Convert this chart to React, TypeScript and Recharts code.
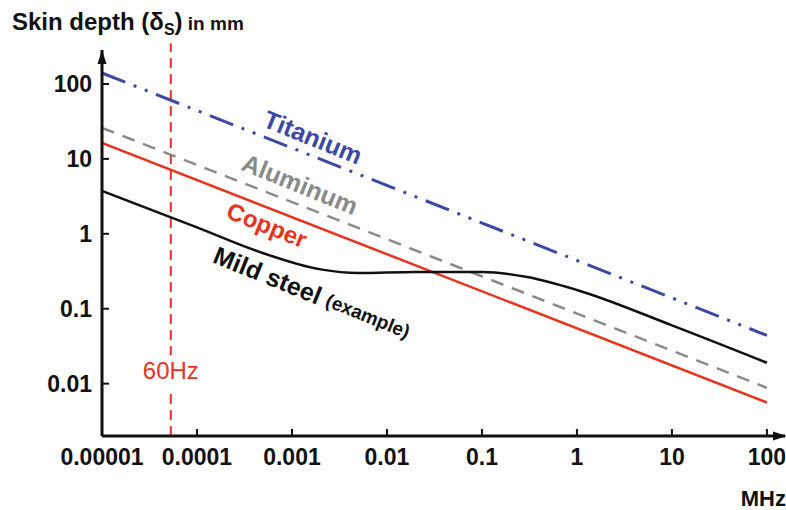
import React from "react";
import { LineChart, Line, XAxis, YAxis, ReferenceLine, ReferenceDot } from "recharts";

const FONT = '"Liberation Sans", Arial, Helvetica, sans-serif';

// frequency axis (MHz) and skin depth axis (mm), both log
const xTicks = [0.00001, 0.0001, 0.001, 0.01, 0.1, 1, 10, 100];
const xTickLabels = ["0.00001", "0.0001", "0.001", "0.01", "0.1", "1", "10", "100"];
const yTicks = [0.01, 0.1, 1, 10, 100];
const yTickLabels = ["0.01", "0.1", "1", "10", "100"];
const xDomain = [0.00001, 155];
const yDomain = [0.002, 284];

// straight lines (slope -1/2 on log-log)
const lineFreq = [0.00001, 100];
const titanium = [140, 0.044];
const aluminum = [26, 0.0088];
const copper = [16.3, 0.0056];

// mild steel example curve
const steelFreq = [0.00001, 0.0001, 0.0005, 0.002, 0.005, 0.02, 0.1, 0.3, 1, 10, 100];
const steelDepth = [3.75, 1.22, 0.55, 0.335, 0.3, 0.31, 0.31, 0.265, 0.178, 0.06, 0.019];

// 60 Hz marker, expressed in MHz
const hz60 = 0.000053;
const hz60Span = [0.002, 350];

const BLUE = "#3d48a6";
const GREY = "#8a8a8a";
const RED = "#e8341e";
const INK = "#111";

const toPoints = (xs: number[], ys: number[]) => xs.map((f, i) => ({ f, d: ys[i] }));

const fmtX = (v: number) => xTickLabels[xTicks.indexOf(v)] ?? String(v);
const fmtY = (v: number) => yTickLabels[yTicks.indexOf(v)] ?? String(v);

const HzLabel = (props: any) => {
  const x = props.viewBox?.x ?? 0;
  return (
    <g>
      <rect x={x - 32} y={355} width={64} height={34} fill="#fff" />
      <text x={x} y={379} textAnchor="middle" fill={RED} fontSize={24} fontFamily={FONT}>
        60Hz
      </text>
    </g>
  );
};

const ArrowRight = (p: any) => (
  <polygon points={`${p.cx + 2},${p.cy} ${p.cx - 12},${p.cy - 4.5} ${p.cx - 12},${p.cy + 4.5}`} fill={INK} />
);
const ArrowUp = (p: any) => (
  <polygon points={`${p.cx},${p.cy} ${p.cx - 4.5},${p.cy + 14} ${p.cx + 4.5},${p.cy + 14}`} fill={INK} />
);

export default function App() {
  return (
    <div style={{ position: "absolute", left: 0, top: 0, background: "#fff" }}>
      <LineChart
        width={786}
        height={510}
        margin={{ top: 50, right: 1, bottom: 0, left: 0 }}
        style={{ fontFamily: FONT }}
      >
        <XAxis
          dataKey="f"
          type="number"
          scale="log"
          domain={xDomain}
          allowDataOverflow
          ticks={xTicks}
          interval={0}
          tickFormatter={fmtX}
          height={74}
          tickSize={-7}
          tickMargin={20}
          axisLine={{ stroke: INK, strokeWidth: 3 }}
          tickLine={{ stroke: INK, strokeWidth: 2 }}
          tick={{ fill: INK, fontSize: 23, fontWeight: "bold" }}
        />
        <YAxis
          type="number"
          scale="log"
          domain={yDomain}
          allowDataOverflow
          ticks={yTicks}
          interval={0}
          tickFormatter={fmtY}
          width={102}
          tickSize={-7}
          tickMargin={17}
          axisLine={{ stroke: INK, strokeWidth: 3 }}
          tickLine={{ stroke: INK, strokeWidth: 2 }}
          tick={{ fill: INK, fontSize: 23, fontWeight: "bold" }}
        />
        <ReferenceLine
          segment={[
            { x: hz60, y: hz60Span[0] },
            { x: hz60, y: hz60Span[1] },
          ]}
          ifOverflow="visible"
          stroke={RED}
          strokeWidth={2}
          strokeDasharray="10 6"
          label={<HzLabel />}
        />
        <Line
          data={toPoints(lineFreq, titanium)}
          dataKey="d"
          stroke={BLUE}
          strokeWidth={3}
          strokeDasharray="25 9 3 9 3 9"
          dot={false}
          isAnimationActive={false}
        />
        <Line
          data={toPoints(lineFreq, aluminum)}
          dataKey="d"
          stroke={GREY}
          strokeWidth={2.5}
          strokeDasharray="13 9"
          dot={false}
          isAnimationActive={false}
        />
        <Line
          data={toPoints(lineFreq, copper)}
          dataKey="d"
          stroke={RED}
          strokeWidth={2.5}
          dot={false}
          isAnimationActive={false}
        />
        <Line
          data={toPoints(steelFreq, steelDepth)}
          dataKey="d"
          type="monotone"
          stroke={INK}
          strokeWidth={2.5}
          dot={false}
          isAnimationActive={false}
        />
        <ReferenceDot x={xDomain[1]} y={yDomain[0]} ifOverflow="visible" shape={ArrowRight} />
        <ReferenceDot x={xDomain[0]} y={yDomain[1]} ifOverflow="visible" shape={ArrowUp} />
        <text x={12} y={30} fontSize={24} fontWeight="bold" fill={INK} fontFamily={FONT}>
          Skin depth (δ
          <tspan fontSize={16} dy={5}>S</tspan>
          <tspan dy={-5}>)</tspan>
          <tspan fontSize={19}> in mm</tspan>
        </text>
        <text x={786} y={506} textAnchor="end" fontSize={22} fontWeight="bold" fill={INK} fontFamily={FONT}>
          MHz
        </text>
        <text x={313} y={137} transform="rotate(22 313 137)" textAnchor="middle" dominantBaseline="central"
          fontSize={25} fontWeight="bold" fill={BLUE} fontFamily={FONT}>
          Titanium
        </text>
        <text x={300} y={184} transform="rotate(22 300 184)" textAnchor="middle" dominantBaseline="central"
          fontSize={25} fontWeight="bold" fill={GREY} fontFamily={FONT}>
          Aluminum
        </text>
        <text x={267} y={225} transform="rotate(22 267 225)" textAnchor="middle" dominantBaseline="central"
          fontSize={24} fontWeight="bold" fill={RED} fontFamily={FONT}>
          Copper
        </text>
        <text x={312} y={293} transform="rotate(22 312 293)" textAnchor="middle" dominantBaseline="central"
          fontSize={25} fontWeight="bold" fill={INK} fontFamily={FONT}>
          Mild steel <tspan fontSize={19}>(example)</tspan>
        </text>
      </LineChart>
    </div>
  );
}
